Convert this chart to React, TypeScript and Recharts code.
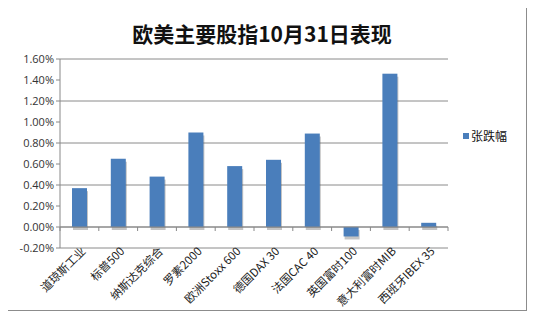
import React from 'react';
import { BarChart, Bar, XAxis, YAxis, CartesianGrid, ReferenceLine } from 'recharts';

const categories = ['道琼斯工业', '标普500', '纳斯达克综合', '罗素2000', '欧洲Stoxx 600', '德国DAX 30', '法国CAC 40', '英国富时100', '意大利富时MIB', '西班牙IBEX 35'];
const changes = [0.37, 0.65, 0.48, 0.9, 0.58, 0.64, 0.89, -0.09, 1.46, 0.04];
const yTicks = [-0.2, 0, 0.2, 0.4, 0.6, 0.8, 1.0, 1.2, 1.4, 1.6];

const data = categories.map((name, i) => ({ name, value: changes[i] }));

const BLUE = '#4a7ebb';

const CatTick = ({ x, y, payload }: any) => (
  <text
    x={x + 7}
    y={y - 4}
    textAnchor="end"
    transform={`rotate(-45, ${x + 7}, ${y - 4})`}
    fontSize={11.5}
    fill="#222"
    fontFamily="'Noto Sans CJK SC', sans-serif"
  >
    {payload.value}
  </text>
);

const BarWithShadow = (props: any) => {
  const { x, y, width, height } = props;
  const top = height >= 0 ? y : y + height;
  const h = Math.abs(height);
  return (
    <g>
      <rect x={x + 1} y={top + 3} width={width} height={h} fill="#555" opacity={0.35} />
      <rect x={x} y={top} width={width} height={h} fill={BLUE} />
    </g>
  );
};

const ZeroAxis = (props: any) => {
  const { x1, x2, y1 } = props;
  const n = categories.length;
  const marks = [];
  for (let i = 0; i <= n; i++) {
    const tx = x1 + ((x2 - x1) * i) / n;
    marks.push(<line key={i} x1={tx} x2={tx} y1={y1} y2={y1 + 4} stroke="#888" />);
  }
  return (
    <g>
      <line x1={x1} x2={x2} y1={y1} y2={y1} stroke="#888" />
      {marks}
    </g>
  );
};

export default function App() {
  return (
    <div
      style={{
        position: 'relative',
        width: 518,
        height: 302,
        marginLeft: -1,
        marginTop: -1,
        border: '1px solid #8c8c8c',
        background: '#fff',
        fontFamily: "'Noto Sans', sans-serif",
      }}
    >
      <div
        style={{
          position: 'absolute',
          left: 0,
          right: 10,
          top: 10,
          textAlign: 'center',
          fontSize: 21,
          fontWeight: 'bold',
          fontFamily: "'Noto Sans CJK SC', sans-serif",
          color: '#111',
        }}
      >
        欧美主要股指10月31日表现
      </div>
      <div
        style={{
          position: 'absolute',
          left: 455,
          top: 119,
          fontSize: 12,
          fontFamily: "'Noto Sans CJK SC', sans-serif",
          display: 'flex',
          alignItems: 'center',
          color: '#111',
        }}
      >
        <span style={{ width: 6, height: 6, background: BLUE, marginRight: 2, display: 'inline-block' }} />
        张跌幅
      </div>
      <BarChart
        width={518}
        height={302}
        data={data}
        margin={{ top: 51, right: 78, left: 0, bottom: 0 }}
        style={{ overflow: 'visible' }}
      >
        <CartesianGrid vertical={false} stroke="#8a8a8a" />
        <XAxis
          dataKey="name"
          height={62}
          axisLine={false}
          tickLine={false}
          interval={0}
          tick={<CatTick />}
        />
        <YAxis
          width={52}
          domain={[-0.2, 1.6]}
          ticks={yTicks}
          tickFormatter={(v: number) => `${v.toFixed(2)}%`}
          stroke="#888"
          tickSize={4}
          tick={{ fontSize: 11, fill: '#333', fontFamily: "'Open Sans', sans-serif" }}
        />
        <ReferenceLine y={0} shape={<ZeroAxis />} />
        <Bar dataKey="value" fill={BLUE} barSize={15} shape={<BarWithShadow />} isAnimationActive={false} />
      </BarChart>
    </div>
  );
}
